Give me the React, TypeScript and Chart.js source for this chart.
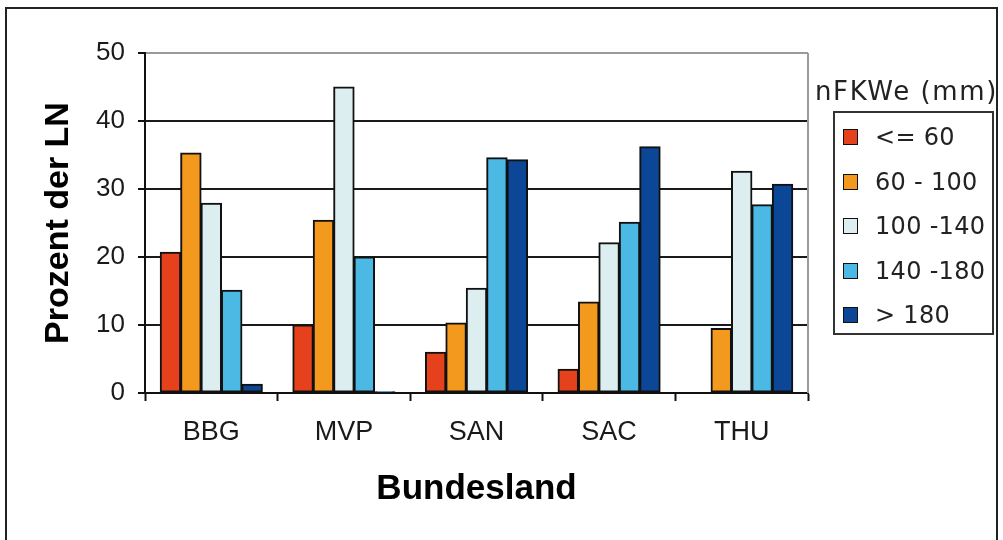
import React, { useEffect, useRef } from "react";
import { Chart, registerables } from "chart.js";

Chart.register(...registerables);

// Bundesländer on the category axis
const categories = ["BBG", "MVP", "SAN", "SAC", "THU"];

// nFKWe classes (mm) and their colours
const classLabels = ["<= 60", "60 - 100", "100 -140", "140 -180", "> 180"];
const classColors = ["#E5411C", "#F2991E", "#DDEEF0", "#4BB9E3", "#0B4796"];

// Share of agricultural land (Prozent der LN) per class
const upTo60 = [20.7, 10.0, 6.0, 3.5, 0];
const from60to100 = [35.3, 25.4, 10.3, 13.4, 9.5];
const from100to140 = [27.9, 45.0, 15.4, 22.1, 32.6];
const from140to180 = [15.1, 20.0, 34.6, 25.1, 27.7];
const above180 = [1.3, 0.2, 34.3, 36.2, 30.7];

const seriesValues = [upTo60, from60to100, from100to140, from140to180, above180];

// Value axis
const yMin = 0;
const yMax = 50;
const yStep = 10;

const legendTitle = "nFKWe (mm)";
const xTitle = "Bundesland";
const yTitle = "Prozent der LN";

const sansFamily = "'Liberation Sans', Arial, Helvetica, sans-serif";

// Grey right-hand edge of the plot area
const plotFrame = {
  id: "plotFrame",
  beforeDatasetsDraw(chart: any) {
    const { ctx, chartArea } = chart;
    ctx.save();
    ctx.strokeStyle = "#9a9a9a";
    ctx.lineWidth = 2;
    ctx.beginPath();
    ctx.moveTo(chartArea.right, chartArea.top);
    ctx.lineTo(chartArea.right, chartArea.bottom);
    ctx.stroke();
    ctx.restore();
  },
};

export default function App() {
  const canvasRef = useRef<HTMLCanvasElement | null>(null);

  useEffect(() => {
    const canvas = canvasRef.current;
    if (!canvas) return;
    const chart = new Chart(canvas, {
      type: "bar",
      data: {
        labels: categories,
        datasets: seriesValues.map((values, i) => ({
          label: classLabels[i],
          data: values,
          backgroundColor: classColors[i],
          borderColor: "#111111",
          borderWidth: 2,
          borderSkipped: false,
          inflateAmount: 0.5,
          categoryPercentage: 0.77,
          barPercentage: 1.0,
        })),
      },
      options: {
        responsive: false,
        animation: false,
        devicePixelRatio: 1,
        layout: { padding: { left: 0, right: 195, top: 53, bottom: 0 } },
        plugins: {
          legend: { display: false },
          tooltip: { enabled: false },
          title: { display: false },
        },
        scales: {
          x: {
            type: "category",
            offset: true,
            afterFit(scale: any) {
              scale.height = 147;
            },
            grid: {
              display: true,
              drawOnChartArea: false,
              drawTicks: true,
              tickLength: 8,
              tickColor: "#111111",
              tickWidth: 2,
              offset: true,
            },
            border: { display: true, color: "#111111", width: 2 },
            ticks: {
              color: "#1a1a1a",
              padding: 15,
              font: { family: sansFamily, size: 27 },
            },
            title: {
              display: true,
              text: xTitle,
              color: "#000000",
              font: { family: sansFamily, size: 35, weight: "bold" },
              padding: { top: 0, bottom: 30 },
            },
          },
          y: {
            min: yMin,
            max: yMax,
            afterFit(scale: any) {
              scale.width = 145;
            },
            ticks: {
              stepSize: yStep,
              color: "#1a1a1a",
              padding: 13,
              font: { family: sansFamily, size: 26 },
            },
            grid: {
              color: (ctx: any) =>
                ctx.tick && ctx.tick.value === yMax ? "#9a9a9a" : "#1a1a1a",
              lineWidth: 2,
              drawTicks: true,
              tickLength: 7,
              tickColor: "#111111",
              tickWidth: 2,
            },
            border: { display: true, color: "#111111", width: 2 },
            title: {
              display: true,
              text: yTitle,
              color: "#000000",
              font: { family: sansFamily, size: 34, weight: "bold" },
              padding: { top: 38, bottom: 0 },
            },
          },
        },
      },
      plugins: [plotFrame],
    });
    return () => chart.destroy();
  }, []);

  return (
    <div
      style={{
        position: "fixed",
        left: 0,
        top: 0,
        width: 1003,
        height: 540,
        background: "#ffffff",
        overflow: "hidden",
      }}
    >
      <canvas
        ref={canvasRef}
        width={1003}
        height={540}
        style={{ position: "absolute", left: 0, top: 0, width: 1003, height: 540 }}
      />
      {/* Legend, clipped at the frame's right edge */}
      <div
        style={{
          position: "absolute",
          left: 0,
          top: 0,
          width: 997,
          height: 540,
          overflow: "hidden",
          fontFamily: "'DejaVu Sans', Verdana, sans-serif",
          color: "#222222",
        }}
      >
        <div
          style={{
            position: "absolute",
            left: 815,
            top: 75,
            fontSize: 26,
            letterSpacing: 1.6,
            lineHeight: "32px",
            whiteSpace: "nowrap",
          }}
        >
          {legendTitle}
        </div>
        <div
          style={{
            position: "absolute",
            left: 833,
            top: 111,
            width: 161,
            height: 224,
            boxSizing: "border-box",
            border: "2px solid #333333",
          }}
        >
          {classLabels.map((label, i) => (
            <div
              key={label}
              style={{
                position: "absolute",
                left: 0,
                top: 24 + i * 44.5 - 16,
                height: 32,
                display: "flex",
                alignItems: "center",
                whiteSpace: "nowrap",
              }}
            >
              <span
                style={{
                  display: "inline-block",
                  marginLeft: 8,
                  width: 15,
                  height: 16,
                  boxSizing: "border-box",
                  background: classColors[i],
                  border: "1.5px solid #111111",
                }}
              />
              <span style={{ marginLeft: 17, fontSize: 24, letterSpacing: 0.3 }}>{label}</span>
            </div>
          ))}
        </div>
      </div>
      {/* Outer frame */}
      <div
        style={{
          position: "absolute",
          left: 5,
          top: 7,
          width: 993,
          height: 540,
          boxSizing: "border-box",
          borderTop: "2px solid #222222",
          borderLeft: "2px solid #222222",
          borderRight: "2px solid #222222",
          pointerEvents: "none",
        }}
      />
    </div>
  );
}
